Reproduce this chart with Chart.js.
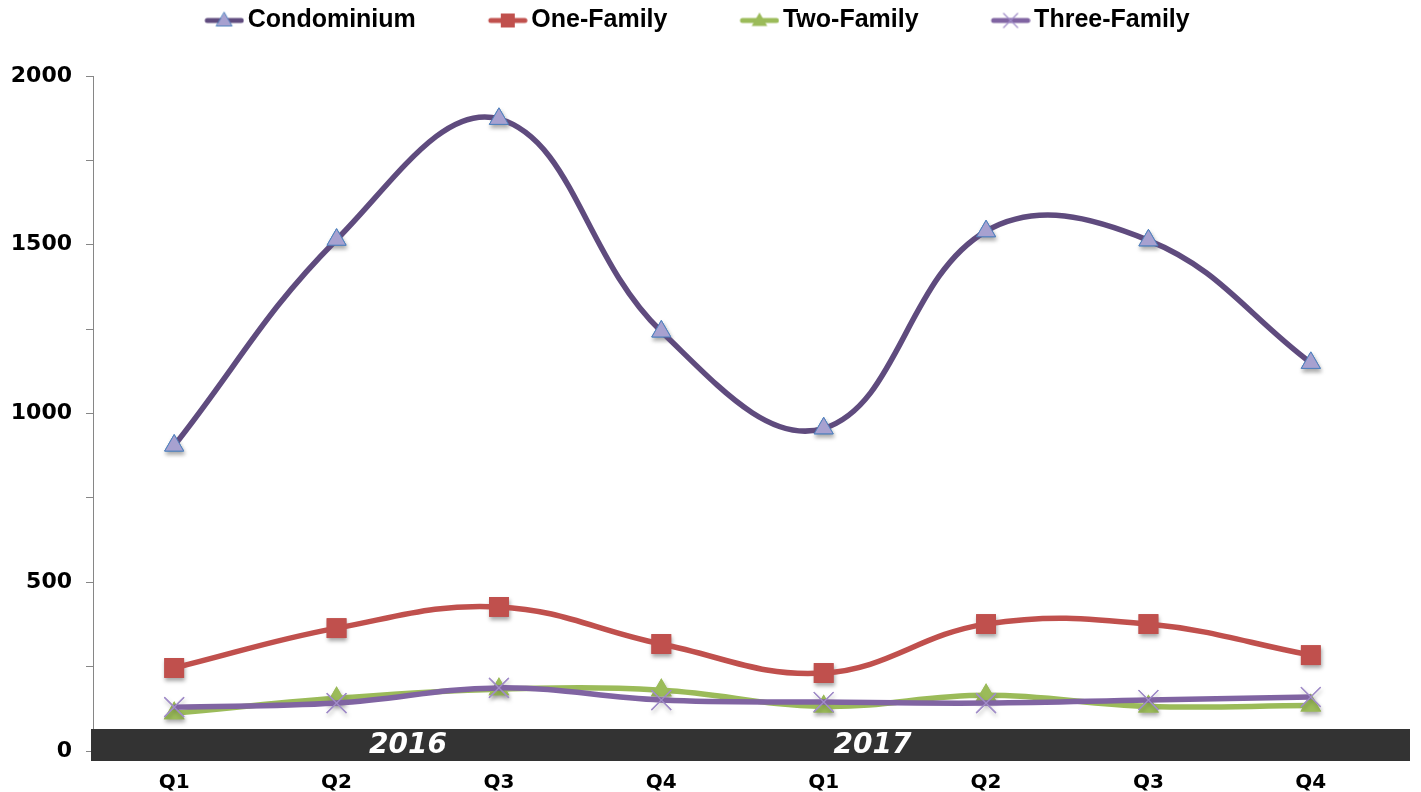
<!DOCTYPE html>
<html>
<head>
<meta charset="utf-8">
<script src="https://cdn.jsdelivr.net/npm/chart.js@4"></script>
<style>
  html, body { margin: 0; padding: 0; background: #fff; }
  #wrap { width: 1421px; height: 792px; }
</style>
</head>
<body>
<div id="wrap"><canvas id="sales-chart"></canvas></div>
<script>
// Quarterly sales by property type, 2016-2017
const quarters = ['Q1', 'Q2', 'Q3', 'Q4', 'Q1', 'Q2', 'Q3', 'Q4'];
const years = ['2016', '2017'];
const condominium = [905, 1515, 1873, 1243, 956, 1540, 1513, 1150];
const oneFamily = [246, 364, 427, 317, 231, 376, 376, 284];
const twoFamily = [112, 156, 183, 180, 132, 165, 132, 135];
const threeFamily = [130, 142, 187, 151, 145, 142, 151, 160];
const yTicks = [0, 500, 1000, 1500, 2000];

// legend box is wide so the items spread out; the swatch sits at its right end
const BOX_W = 95;

function legendSwatch(lineColor, drawMarker) {
    const c = document.createElement('canvas');
    c.width = BOX_W + 18;
    c.height = 24;
    const g = c.getContext('2d');
    const x1 = c.width - 40;
    g.strokeStyle = lineColor;
    g.lineWidth = 5;
    g.lineCap = 'round';
    g.beginPath();
    g.moveTo(x1 + 3, 12);
    g.lineTo(x1 + 37, 12);
    g.stroke();
    drawMarker(g, x1 + 20, 12);
    return c;
}

function triangle(g, x, y, r, fill, stroke) {
    g.beginPath();
    g.moveTo(x, y - r);
    g.lineTo(x + r * 0.866, y + r / 2);
    g.lineTo(x - r * 0.866, y + r / 2);
    g.closePath();
    g.fillStyle = fill;
    g.fill();
    if (stroke) { g.strokeStyle = stroke; g.lineWidth = 1; g.stroke(); }
}

const swatches = [
    legendSwatch('#5f4b7e', (g, x, y) => triangle(g, x, y + 1, 9, '#a7a1d0', '#4f81bd')),
    legendSwatch('#c0504d', (g, x, y) => { g.fillStyle = '#c0504d'; g.fillRect(x - 7, y - 7, 14, 14); }),
    legendSwatch('#9bbb59', (g, x, y) => triangle(g, x, y + 1, 9, '#9bbb59')),
    legendSwatch('#8064a2', (g, x, y) => {
        g.strokeStyle = '#a08cc8'; g.lineWidth = 1.2;
        g.beginPath();
        g.moveTo(x - 7, y - 7); g.lineTo(x + 7, y + 7);
        g.moveTo(x + 7, y - 7); g.lineTo(x - 7, y + 7);
        g.stroke();
    })
];

// legend tweaks: taller box (plot starts lower) and row pulled left
const legendFit = {
    id: 'legendFit',
    afterInit(chart) {
        const lg = chart.legend;
        const fit = lg.fit;
        lg.fit = function () {
            fit.call(this);
            this.height = 76;
        };
    },
    afterLayout(chart) {
        chart.legend.left -= 31;
        chart.legend.right -= 31;
    }
};

// soft drop shadow under the point markers (lines stay flat)
const markerShadow = {
    id: 'markerShadow',
    beforeDatasetDraw(chart, args) {
        const { ctx, chartArea } = chart;
        ctx.save();
        ctx.shadowColor = 'rgba(0, 0, 0, 0.35)';
        ctx.shadowBlur = 4;
        ctx.shadowOffsetX = 1;
        ctx.shadowOffsetY = 3;
        args.meta.data.forEach(pt => pt.draw(ctx, chartArea));
        ctx.restore();
    }
};

// dark year band across the bottom of the plot
const yearBand = {
    id: 'yearBand',
    afterDatasetsDraw(chart) {
        const { ctx, chartArea, scales } = chart;
        const y0 = scales.y.getPixelForValue(0);
        ctx.save();
        ctx.fillStyle = '#333333';
        ctx.fillRect(chartArea.left - 2, y0 - 22, chartArea.right - chartArea.left + 20, 32);
        ctx.fillStyle = '#ffffff';
        ctx.font = 'italic bold 28px "DejaVu Sans"';
        ctx.textAlign = 'center';
        ctx.textBaseline = 'middle';
        const spots = [1.44, 4.3];
        years.forEach((yr, i) => {
            ctx.fillText(yr, scales.x.getPixelForValue(spots[i]), y0 - 5);
        });
        ctx.restore();
    }
};

const font = (size, family) => ({ family: family || '"DejaVu Sans"', size: size, weight: 'bold' });

new Chart(document.getElementById('sales-chart'), {
    type: 'line',
    data: {
        labels: quarters,
        datasets: [
            {
                label: 'Condominium',
                data: condominium,
                borderColor: '#5f4b7e',
                pointStyle: 'triangle',
                pointRadius: 11,
                pointBackgroundColor: '#a7a1d0',
                pointBorderColor: '#4f81bd',
                pointBorderWidth: 1,
                order: 0
            },
            {
                label: 'One-Family',
                data: oneFamily,
                borderColor: '#c0504d',
                pointStyle: 'rect',
                pointRadius: 14,
                pointBackgroundColor: '#c0504d',
                pointBorderColor: '#c0504d',
                pointBorderWidth: 0,
                order: 1
            },
            {
                label: 'Two-Family',
                data: twoFamily,
                borderColor: '#9bbb59',
                pointStyle: 'triangle',
                pointRadius: 12,
                pointBackgroundColor: '#9bbb59',
                pointBorderColor: '#9bbb59',
                pointBorderWidth: 0,
                order: 3
            },
            {
                label: 'Three-Family',
                data: threeFamily,
                borderColor: '#8064a2',
                pointStyle: 'crossRot',
                pointRadius: 14,
                pointBorderColor: '#a08cc8',
                pointBorderWidth: 1.3,
                order: 2
            }
        ]
    },
    options: {
        responsive: true,
        maintainAspectRatio: false,
        animation: false,
        events: [],
        elements: { line: { tension: 0.4, fill: false, borderWidth: 5.5 } },
        layout: { padding: { top: 0, right: 29, left: 0, bottom: 0 } },
        plugins: {
            tooltip: { enabled: false },
            legend: {
                position: 'top',
                labels: {
                    usePointStyle: true,
                    pointStyleWidth: BOX_W,
                    boxHeight: 25,
                    padding: 8,
                    color: '#000',
                    font: font(25, '"Liberation Sans"'),
                    generateLabels(chart) {
                        return chart.data.datasets.map((ds, i) => ({
                            text: ds.label,
                            pointStyle: swatches[i],
                            datasetIndex: i,
                            hidden: false,
                            fontColor: '#000',
                            lineWidth: 0,
                            strokeStyle: 'transparent',
                            fillStyle: 'transparent'
                        }));
                    }
                }
            }
        },
        scales: {
            x: {
                offset: true,
                grid: { display: false },
                border: { display: false },
                ticks: {
                    color: '#000',
                    padding: 12,
                    font: font(20)
                },
                afterFit(axis) { axis.height = 41; }
            },
            y: {
                min: 0,
                max: 2000,
                grid: {
                    drawOnChartArea: false,
                    color: '#868686',
                    tickLength: 7
                },
                border: { color: '#868686', width: 1 },
                ticks: {
                    stepSize: 250,
                    padding: 14,
                    color: '#000',
                    font: font(22),
                    callback: v => yTicks.includes(v) ? v : ''
                },
                afterFit(axis) { axis.width = 93; }
            }
        }
    },
    plugins: [legendFit, markerShadow, yearBand]
});
</script>
</body>
</html>
